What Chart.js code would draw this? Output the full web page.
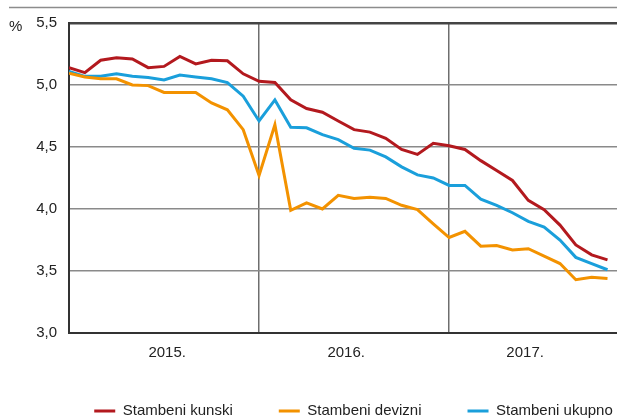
<!DOCTYPE html>
<html lang="hr">

<head>
    <meta charset="UTF-8">
    <title>Kamatne stope na stambene kredite</title>
    <style>
        html, body { margin: 0; padding: 0; background: #fff; }
        #wrap { width: 617px; height: 419px; position: relative; }
    </style>
</head>

<body>
    <div id="wrap">
        <canvas id="mychart"></canvas>
    </div>

    <script src="https://cdn.jsdelivr.net/npm/chart.js@4.4.1/dist/chart.umd.min.js"></script>
    <script>
        // mjesecni podaci, sijecanj 2015. - studeni 2017.
        var months = [
            '1/15', '2/15', '3/15', '4/15', '5/15', '6/15', '7/15', '8/15', '9/15', '10/15', '11/15', '12/15',
            '1/16', '2/16', '3/16', '4/16', '5/16', '6/16', '7/16', '8/16', '9/16', '10/16', '11/16', '12/16',
            '1/17', '2/17', '3/17', '4/17', '5/17', '6/17', '7/17', '8/17', '9/17', '10/17', '11/17'
        ];
        var kunski = [5.14, 5.10, 5.20, 5.22, 5.21, 5.14, 5.15, 5.23, 5.17, 5.20, 5.195, 5.09,
            5.03, 5.02, 4.88, 4.81, 4.78, 4.71, 4.64, 4.62, 4.57, 4.48, 4.44, 4.53,
            4.51, 4.48, 4.39, 4.31, 4.23, 4.07, 3.995, 3.87, 3.71, 3.63, 3.59];
        var devizni = [5.095, 5.065, 5.05, 5.05, 5.00, 4.995, 4.94, 4.94, 4.94, 4.855, 4.80, 4.64,
            4.27, 4.68, 3.99, 4.05, 4.00, 4.11, 4.085, 4.095, 4.085, 4.03, 3.995, 3.88,
            3.77, 3.82, 3.70, 3.705, 3.67, 3.68, 3.62, 3.56, 3.43, 3.45, 3.44];
        var ukupno = [5.11, 5.07, 5.07, 5.09, 5.07, 5.06, 5.04, 5.08, 5.065, 5.05, 5.02, 4.91,
            4.71, 4.88, 4.66, 4.655, 4.60, 4.56, 4.49, 4.475, 4.42, 4.34, 4.275, 4.25,
            4.19, 4.19, 4.08, 4.03, 3.97, 3.90, 3.855, 3.75, 3.61, 3.56, 3.51];
        var seriesNames = ['Stambeni kunski', 'Stambeni devizni', 'Stambeni ukupno'];
        var years = ['2015.', '2016.', '2017.'];
        var yTickLabels = ['3,0', '3,5', '4,0', '4,5', '5,0', '5,5'];

        var FONT = "'Liberation Sans', Arial, sans-serif";
        var yearPos = [6.2, 17.5, 28.8];   // gdje pisu godine na osi x

        function toPoints(arr) {
            return arr.map(function (v, i) { return { x: i, y: v }; });
        }

        function line(label, values, color) {
            return {
                label: label,
                data: toPoints(values),
                borderColor: color,
                backgroundColor: color,
                borderWidth: 3,
                pointRadius: 0,
                tension: 0,
                fill: false
            };
        }

        // tanka crta na vrhu i oznaka jedinice
        var decor = {
            id: 'decor',
            beforeDraw: function (chart) {
                var c = chart.ctx;
                c.save();
                c.strokeStyle = '#8c8c8c';
                c.lineWidth = 1.5;
                c.beginPath();
                c.moveTo(9, 7.5);
                c.lineTo(chart.width, 7.5);
                c.stroke();
                c.fillStyle = '#222';
                c.font = '15px ' + FONT;
                c.textBaseline = 'middle';
                c.fillText('%', 9, 27);
                c.restore();
            }
        };

        // legenda: pomak udesno, redak na y = 403
        var legendShift = {
            id: 'legendShift',
            afterLayout: function (chart) {
                var lg = chart.legend;
                if (!lg) return;
                var dy = 403.5 - (lg.top + lg.options.labels.padding);
                lg.left += 45; lg.right += 45;
                lg.top += dy; lg.bottom += dy;
            }
        };

        const ctx = document.getElementById('mychart');

        var mychart = new Chart(ctx, {
            type: 'line',
            data: {
                labels: months,
                datasets: [
                    line(seriesNames[0], kunski, '#b3191e'),
                    line(seriesNames[1], devizni, '#f39200'),
                    line(seriesNames[2], ukupno, '#1a9fdb')
                ]
            },
            plugins: [decor, legendShift],
            options: {
                responsive: true,
                maintainAspectRatio: false,
                animation: false,
                // donji rub grafa na 333 px
                layout: { padding: { top: 23, left: 0, right: 0, bottom: -15 } },
                plugins: {
                    tooltip: { enabled: false },
                    legend: {
                        position: 'bottom',
                        labels: {
                            boxWidth: 21,
                            boxHeight: 3,
                            padding: 46,
                            color: '#222',
                            font: { family: FONT, size: 15 },
                            generateLabels: function (chart) {
                                return Chart.defaults.plugins.legend.labels.generateLabels(chart)
                                    .map(function (l) { l.lineWidth = 0; return l; });
                            }
                        }
                    }
                },
                scales: {
                    x: {
                        type: 'linear',
                        min: 0,
                        max: 34.6,
                        afterFit: function (scale) { scale.height = 30; },
                        afterBuildTicks: function (scale) {
                            scale.ticks = [
                                { value: yearPos[0] }, { value: 12 },
                                { value: yearPos[1] }, { value: 24 },
                                { value: yearPos[2] }
                            ];
                        },
                        border: { display: true, color: '#333', width: 2 },
                        grid: {
                            drawTicks: false,
                            color: function (c) {
                                return (c.tick && c.tick.value % 12 === 0) ? '#6e6e6e' : 'rgba(0,0,0,0)';
                            },
                            lineWidth: 1.5
                        },
                        ticks: {
                            padding: 11,
                            maxRotation: 0,
                            autoSkip: false,
                            color: '#222',
                            font: { family: FONT, size: 15 },
                            callback: function (value) {
                                var i = yearPos.indexOf(value);
                                return i >= 0 ? years[i] : '';
                            }
                        }
                    },
                    y: {
                        min: 3,
                        max: 5.5,
                        afterFit: function (scale) { scale.width = 69; },
                        border: { display: true, color: '#333', width: 2 },
                        grid: {
                            drawTicks: false,
                            color: function (c) {
                                return (c.tick && c.tick.value === 5.5) ? '#444' : '#8a8a8a';
                            },
                            lineWidth: function (c) {
                                return (c.tick && c.tick.value === 5.5) ? 2.5 : 1.5;
                            }
                        },
                        ticks: {
                            stepSize: 0.5,
                            padding: 12,
                            color: '#222',
                            font: { family: FONT, size: 15 },
                            callback: function (value) {
                                return yTickLabels[Math.round((value - 3) / 0.5)];
                            }
                        }
                    }
                }
            }
        });
    </script>
</body>

</html>
